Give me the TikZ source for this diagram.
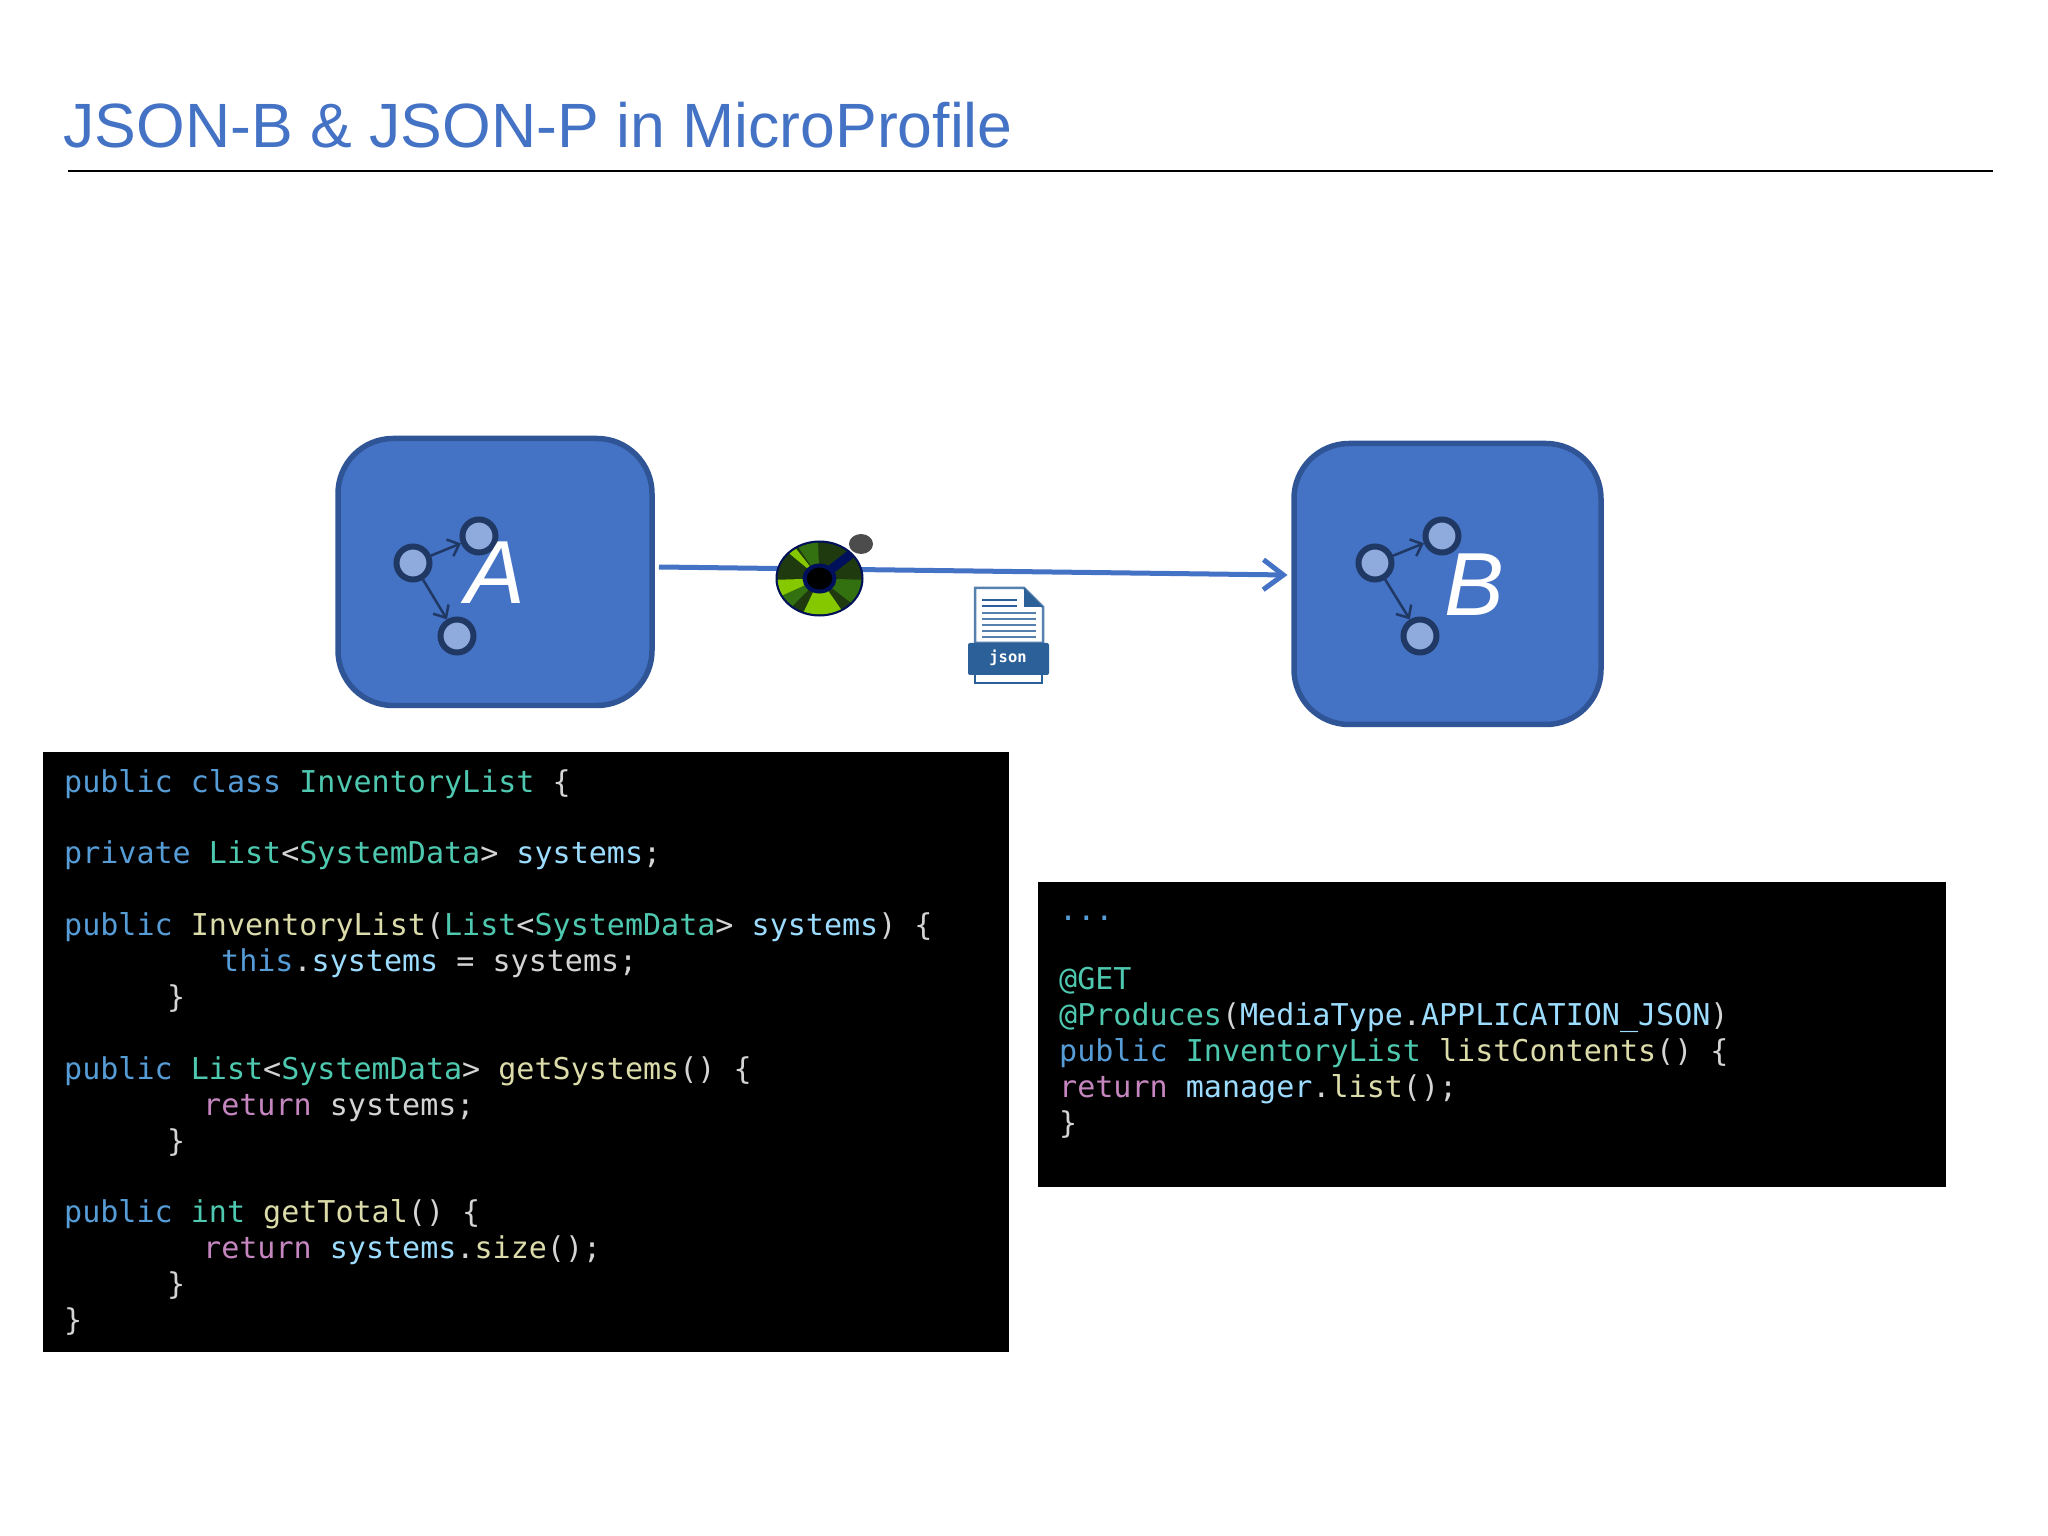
\documentclass[tikz,border=0pt]{standalone}
\usepackage{fontspec}
\setmainfont{Liberation Sans}
\setmonofont{DejaVu Sans Mono}
\usepackage{xcolor}
\usetikzlibrary{arrows.meta,positioning}

\definecolor{titleblue}{HTML}{4472C4}
\definecolor{boxline}{HTML}{2F5597}
\definecolor{navy}{HTML}{203864}
\definecolor{dotfill}{HTML}{8FAADC}
\definecolor{kwblue}{HTML}{569CD6}
\definecolor{typegreen}{HTML}{4EC9B0}
\definecolor{fnyellow}{HTML}{DCDCAA}
\definecolor{varblue}{HTML}{9CDCFE}
\definecolor{retpink}{HTML}{C586C0}
\definecolor{plain}{HTML}{D4D4D4}
\definecolor{wheeldark}{HTML}{1F3A0F}
\definecolor{wheelmid}{HTML}{33700F}
\definecolor{wheellight}{HTML}{86C800}
\definecolor{wheelhub}{HTML}{00105A}
\definecolor{jsonblue}{HTML}{2C6098}

\newcommand{\kw}[1]{\textcolor{kwblue}{#1}}
\newcommand{\ty}[1]{\textcolor{typegreen}{#1}}
\newcommand{\fn}[1]{\textcolor{fnyellow}{#1}}
\newcommand{\vr}[1]{\textcolor{varblue}{#1}}
\newcommand{\rt}[1]{\textcolor{retpink}{#1}}

\tikzset{
    service/.style={draw=boxline,fill=titleblue,line width=0.055cm,rounded corners=0.55cm,minimum width=3.14cm,inner sep=0},
    dot/.style={circle,draw=navy,fill=dotfill,line width=0.06cm,minimum size=0.33cm,inner sep=0},
    link/.style={draw=navy,line width=0.025cm,-{Straight Barb[length=0.1cm,width=0.18cm]}},
    letter/.style={text=white,font=\fontsize{25.5}{27}\selectfont\itshape,inner sep=0},
    codebox/.style={fill=black,inner sep=0,anchor=north west},
    codeline/.style={anchor=base west,inner sep=0,text=plain,xshift=-0.005cm,yshift=0.01cm,font=\ttfamily\fontsize{8.55}{10}\selectfont}
}

\begin{document}
\begin{tikzpicture}
    \useasboundingbox (0,0) rectangle (20.48,-15.36);

    % heading
    \node[anchor=base west,inner sep=0,text=titleblue,font=\fontsize{17.8}{22}\selectfont] (title) at (0.63,-1.48) {JSON-B \& JSON-P in MicroProfile};
    \coordinate (ruleL) at (0.68,-1.71);
    \coordinate (ruleR) at (19.93,-1.71);
    \draw[line width=0.02cm] (ruleL) -- (ruleR);

    % services
    \node[service,minimum height=2.67cm] (boxA) at (4.95,-5.72) {};
    \node[service,minimum height=2.81cm,minimum width=3.07cm] (boxB) at (14.475,-5.84) {};

    \node[dot] (a1) at (4.13,-5.63) {};
    \node[dot] (a2) at (4.79,-5.36) {};
    \node[dot] (a3) at (4.57,-6.36) {};
    \draw[link] (a1) -- (a2);
    \draw[link] (a1) -- (a3);
    \node[letter] (labelA) at (4.95,-5.73) {A};

    \node[dot] (b1) at (13.75,-5.63) {};
    \node[dot] (b2) at (14.42,-5.36) {};
    \node[dot] (b3) at (14.20,-6.36) {};
    \draw[link] (b1) -- (b2);
    \draw[link] (b1) -- (b3);
    \node[letter] (labelB) at (14.745,-5.85) {B};

    % message line
    \coordinate (flowL) at (6.59,-5.67);
    \coordinate (flowR) at (12.875,-5.75);
    \draw[titleblue,line width=0.05cm,-{Straight Barb[length=0.2cm,width=0.3cm]}] (flowL) -- (flowR);

    % wheel
    \begin{scope}[shift={(8.195,-5.785)}]
        \fill[wheeldark] (0,0) ellipse [x radius=0.43,y radius=0.37];
        \foreach \s/\e/\c in {-42/-2/wheelmid,-112/-59/wheellight,-152/-130/wheelmid,182/208/wheellight,92/120/wheelmid,124/136/wheellight} {
            \fill[\c] (0,0) -- (\s:0.42 and 0.36) arc [start angle=\s,end angle=\e,x radius=0.42,y radius=0.36] -- cycle;
        }
        \draw[wheelhub,line width=0.02cm] (0,0) ellipse [x radius=0.43,y radius=0.37];
        \draw[wheelhub,line width=0.09cm] (0,0) -- (0.32,0.25);
        \fill[black] (0,0) ellipse [x radius=0.15,y radius=0.13];
        \draw[wheelhub,line width=0.04cm] (0,0) ellipse [x radius=0.15,y radius=0.13];
        \fill[black!70] (0.415,0.345) ellipse [x radius=0.12,y radius=0.1];
    \end{scope}

    % json file
    \draw[jsonblue!80,line width=0.025cm,fill=white] (9.75,-6.43) -- (9.75,-5.88) -- (10.24,-5.88) -- (10.43,-6.07) -- (10.43,-6.43) -- cycle;
    \fill[jsonblue] (10.24,-5.88) -- (10.43,-6.07) -- (10.24,-6.07) -- cycle;
    \foreach \y in {6.00,6.06} {
        \draw[jsonblue,line width=0.015cm] (9.82,-\y) -- (10.17,-\y);
    }
    \foreach \y in {6.13,6.19,6.25,6.31,6.37} {
        \draw[jsonblue!80,line width=0.022cm] (9.82,-\y) -- (10.36,-\y);
    }
    \draw[jsonblue,line width=0.025cm,fill=white] (9.75,-6.73) rectangle (10.42,-6.83);
    \fill[jsonblue,rounded corners=0.02cm] (9.68,-6.43) rectangle (10.49,-6.75);
    \node[inner sep=0,text=white,font=\ttfamily\bfseries\fontsize{4.4}{5}\selectfont] (jsonlabel) at (10.08,-6.58) {json};

    % code panels
    \node[codebox,minimum width=9.66cm,minimum height=6.00cm] (panelL) at (0.42,-7.515) {};
    \node[codebox,minimum width=9.08cm,minimum height=3.05cm] (panelR) at (10.37,-8.81) {};

    \node[codeline] (l1) at (0.64,-7.93) {\kw{public class} \ty{InventoryList} \{};
    \node[codeline] (l2) at (0.64,-8.64) {\kw{private} \ty{List}<\ty{SystemData}> \vr{systems};};
    \node[codeline] (l3) at (0.64,-9.36) {\kw{public} \fn{InventoryList}(\ty{List}<\ty{SystemData}> \vr{systems}) \{};
    \node[codeline] (l4) at (2.21,-9.72) {\kw{this}.\vr{systems} = systems;};
    \node[codeline] (l5) at (1.67,-10.08) {\}};
    \node[codeline] (l6) at (0.64,-10.80) {\kw{public} \ty{List}<\ty{SystemData}> \fn{getSystems}() \{};
    \node[codeline] (l7) at (2.03,-11.16) {\rt{return} systems;};
    \node[codeline] (l8) at (1.67,-11.52) {\}};
    \node[codeline] (l9) at (0.64,-12.23) {\kw{public} \ty{int} \fn{getTotal}() \{};
    \node[codeline] (l10) at (2.03,-12.59) {\rt{return} \vr{systems}.\fn{size}();};
    \node[codeline] (l11) at (1.67,-12.95) {\}};
    \node[codeline] (l12) at (0.64,-13.31) {\}};

    \node[codeline] (r1) at (10.59,-9.21) {\kw{...}};
    \node[codeline] (r2) at (10.59,-9.90) {\ty{@GET}};
    \node[codeline] (r3) at (10.59,-10.26) {\ty{@Produces}(\vr{MediaType}.\vr{APPLICATION\_JSON})};
    \node[codeline] (r4) at (10.59,-10.62) {\kw{public} \ty{InventoryList} \fn{listContents}() \{};
    \node[codeline] (r5) at (10.59,-10.98) {\rt{return} \vr{manager}.\fn{list}();};
    \node[codeline] (r6) at (10.59,-11.34) {\}};
\end{tikzpicture}
\end{document}
